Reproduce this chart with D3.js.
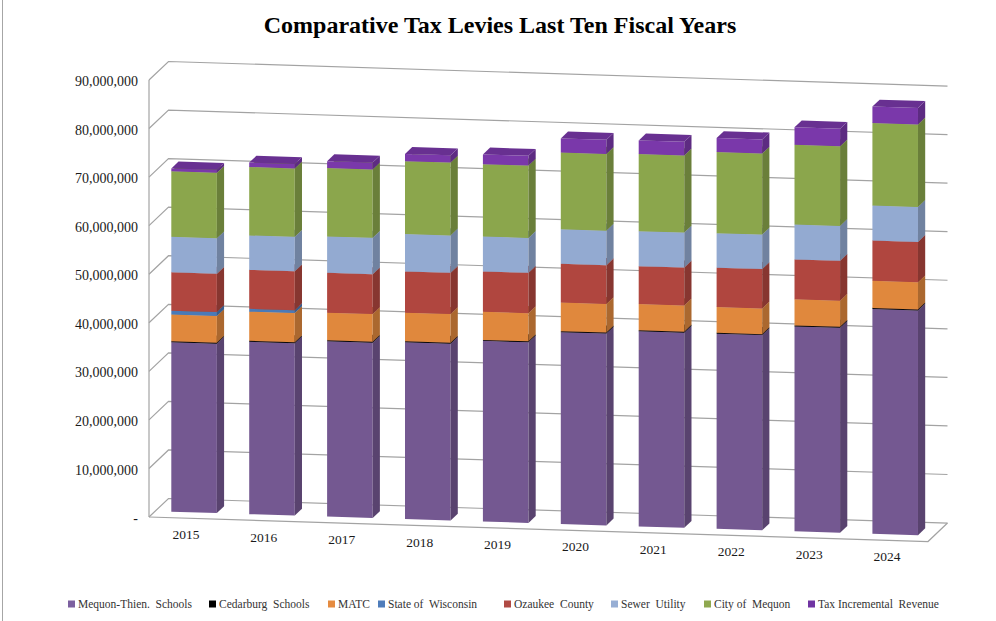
<!DOCTYPE html>
<html>
<head>
<meta charset="utf-8">
<script src="https://cdn.jsdelivr.net/npm/d3@7"></script>
<style>
  html, body { margin: 0; padding: 0; background: #fff; }
  svg { display: block; }
  text { font-family: "Liberation Serif", "Times New Roman", serif; }
</style>
</head>
<body>
<svg id="chart" width="996" height="621"></svg>
<script>
// Fiscal years on the category axis
const years = ["2015", "2016", "2017", "2018", "2019", "2020", "2021", "2022", "2023", "2024"];

// Levy by taxing jurisdiction, dollars
const mequonThienSchools = [34900000, 35500000, 36100000, 36400000, 37200000, 39500000, 40200000, 40200000, 42200000, 46300000];
const cedarburgSchools   = [200000, 200000, 200000, 200000, 200000, 200000, 200000, 200000, 200000, 200000];
const matc               = [5500000, 6000000, 5700000, 5900000, 5800000, 5900000, 5400000, 5300000, 5400000, 5600000];
const stateOfWisconsin   = [800000, 600000, 0, 0, 0, 0, 0, 0, 0, 0];
const ozaukeeCounty      = [7900000, 8000000, 8200000, 8500000, 8300000, 8000000, 7800000, 8100000, 8200000, 8300000];
const sewerUtility       = [7300000, 7100000, 7500000, 7700000, 7200000, 7100000, 7200000, 7100000, 7200000, 7200000];
const cityOfMequon       = [13500000, 14100000, 14100000, 15000000, 14900000, 15800000, 15900000, 16700000, 16400000, 17000000];
const taxIncremental     = [600000, 900000, 1400000, 1500000, 2000000, 2900000, 2800000, 2900000, 3600000, 3400000];

// Value axis ticks
const tickValues = [0, 10000000, 20000000, 30000000, 40000000, 50000000, 60000000, 70000000, 80000000, 90000000];

const seriesNames = ["Mequon-Thien.  Schools", "Cedarburg  Schools", "MATC", "State of  Wisconsin",
                     "Ozaukee  County", "Sewer  Utility", "City of  Mequon", "Tax Incremental  Revenue"];
const seriesValues = [mequonThienSchools, cedarburgSchools, matc, stateOfWisconsin,
                      ozaukeeCounty, sewerUtility, cityOfMequon, taxIncremental];
const frontColors  = ["#745891", "#0a0a0a", "#e0883d", "#4a7ab8", "#b0463f", "#93aad1", "#8ba64c", "#7a38aa"];
const legendColors = ["#7c60a0", "#000000", "#e58b40", "#4f7dbb", "#b04a44", "#97aed4", "#8fa84f", "#7034a2"];

// Legend layout: left edge of each key swatch
const legendX = [68, 209, 328, 378, 504, 611, 704, 808];

const svg = d3.select("#chart");

// Oblique projection: u runs along the floor front edge, h is height in px, d is depth 0..1
const ox = 149, oy = 517, slope = 0.0315, depthX = 19.5, depthY = 18.5, floorLen = 779;
const P = (u, h, d) => [ox + u + d * depthX, oy + slope * u - h - d * depthY];

const x = d3.scaleBand().domain(years).range([0, floorLen]).paddingInner(0.415).paddingOuter(0.2075);
const y = d3.scaleLinear().domain([0, 90000000]).range([0, 437]);

const line = d3.line();
const poly = pts => line(pts) + "Z";

// Walls and floor
const grid = svg.append("g").attr("fill", "none").attr("stroke", "#a3a3a3").attr("stroke-width", 1.2);
grid.append("line")
  .attr("x1", ox).attr("y1", oy - y(90000000))
  .attr("x2", ox).attr("y2", oy);
tickValues.forEach(v => {
  grid.append("path").attr("d", line([P(0, y(v), 0), P(0, y(v), 1), P(floorLen, y(v), 1)]));
});
grid.append("path").attr("d", line([P(0, 0, 0), P(floorLen, 0, 0), P(floorLen, 0, 1)]));

// Value axis labels along the front-left edge
const yAxisScale = d3.scaleLinear().domain([0, 90000000]).range([oy, oy - 437]);
const yAxis = svg.append("g")
  .attr("transform", "translate(138,0)")
  .call(d3.axisLeft(yAxisScale).tickValues(tickValues).tickSize(0).tickPadding(0)
        .tickFormat(v => v === 0 ? "-" : d3.format(",")(v)));
yAxis.select(".domain").remove();
yAxis.selectAll("text")
  .style("font-family", "'Liberation Serif', 'Times New Roman', serif")
  .style("font-size", "14px").attr("fill", "#1a1a1a").attr("dy", "0.4em");

// Stacked columns
const stackData = years.map((yr, i) => {
  const row = { year: yr };
  seriesNames.forEach((n, s) => row[n] = seriesValues[s][i]);
  return row;
});
const stacked = d3.stack().keys(seriesNames)(stackData);

const d0 = 0.315, d1 = 0.685;
const bars = svg.append("g");
years.forEach((yr, i) => {
  const g = bars.append("g");
  const u0 = x(yr), u1 = u0 + x.bandwidth();
  stacked.forEach((layer, s) => {
    const [lo, hi] = layer[i];
    if (hi - lo <= 0) return;
    const h0 = y(lo), h1 = y(hi);
    const base = d3.color(frontColors[s]);
    g.append("path").attr("d", poly([P(u0, h0, d0), P(u1, h0, d0), P(u1, h1, d0), P(u0, h1, d0)]))
      .attr("fill", base.formatHex());
    g.append("path").attr("d", poly([P(u1, h0, d0), P(u1, h0, d1), P(u1, h1, d1), P(u1, h1, d0)]))
      .attr("fill", base.darker(0.75).formatHex());
    g.append("path").attr("d", poly([P(u0, h1, d0), P(u1, h1, d0), P(u1, h1, d1), P(u0, h1, d1)]))
      .attr("fill", base.darker(0.45).formatHex());
  });
});

// Category labels following the floor's front edge
svg.append("g").selectAll("text").data(years).join("text")
  .attr("x", d => P(x(d) + x.bandwidth() / 2, 0, 0)[0] - 2)
  .attr("y", d => P(x(d) + x.bandwidth() / 2, 0, 0)[1] + 21)
  .attr("text-anchor", "middle")
  .attr("font-size", "13.5px").attr("fill", "#1a1a1a")
  .text(d => d);

// Title
svg.append("text")
  .attr("x", 500).attr("y", 33)
  .attr("text-anchor", "middle")
  .attr("font-size", "24px").attr("font-weight", "bold").attr("fill", "#000")
  .text("Comparative Tax Levies Last Ten Fiscal Years");

// Legend
const legend = svg.append("g");
seriesNames.forEach((n, s) => {
  legend.append("rect").attr("x", legendX[s]).attr("y", 600.5).attr("width", 7).attr("height", 7)
    .attr("fill", legendColors[s]);
  legend.append("text")
    .attr("x", legendX[s] + 10).attr("y", 608)
    .attr("font-size", "11.5px").attr("fill", "#333")
    .style("white-space", "pre")
    .text(n);
});

// Chart frame edge
svg.append("line").attr("x1", 2.5).attr("y1", 0).attr("x2", 2.5).attr("y2", 621)
  .attr("stroke", "#a6a6a6").attr("stroke-width", 1);
</script>
</body>
</html>
